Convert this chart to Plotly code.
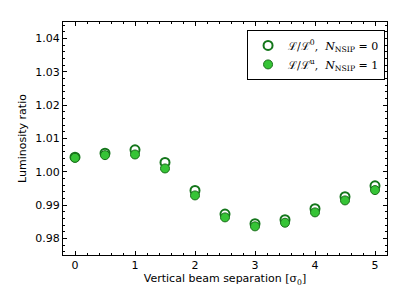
import plotly.graph_objects as go

separation = [0, 0.5, 1, 1.5, 2, 2.5, 3, 3.5, 4, 4.5, 5]
ratio_nsip0 = [1.0044, 1.0056, 1.0066, 1.0028, 0.9944, 0.9873, 0.9844, 0.9856, 0.9889, 0.9925, 0.9958]
ratio_nsip1 = [1.0042, 1.0050, 1.0052, 1.0010, 0.9929, 0.9863, 0.9836, 0.9847, 0.9878, 0.9914, 0.9945]
y_ticks = [0.98, 0.99, 1.00, 1.01, 1.02, 1.03, 1.04]
x_ticks = [0, 1, 2, 3, 4, 5]

fig = go.Figure()
fig.add_trace(go.Scatter(
    x=separation, y=ratio_nsip0, mode="markers",
    name="ℒ/ℒ<sup>0</sup>,  <i>N</i><sub>NSIP</sub> = 0",
    marker=dict(size=9, color="white", line=dict(color="#13761a", width=2)),
))
fig.add_trace(go.Scatter(
    x=separation, y=ratio_nsip1, mode="markers",
    name="ℒ/ℒ<sup>u</sup>,  <i>N</i><sub>NSIP</sub> = 1",
    marker=dict(size=9, color="#36c436", line=dict(color="#1a6e1a", width=1)),
))

axis_common = dict(
    showline=True, linecolor="black", linewidth=1, mirror="allticks",
    ticks="inside", ticklen=4, tickcolor="black", tickwidth=1,
    showgrid=False, zeroline=False,
    tickfont=dict(family="DejaVu Sans", size=11, color="black"),
)

fig.update_xaxes(
    range=[-0.2, 5.2], tickvals=x_ticks,
    minor=dict(ticks="inside", dtick=0.2, ticklen=2, tickcolor="black", showgrid=False),
    title=dict(text="Vertical beam separation <span style='font-family:DejaVu Serif'>[σ<sub>0</sub>]</span>",
               font=dict(family="DejaVu Sans", size=11, color="black"), standoff=2),
    automargin=True,
    **axis_common,
)
fig.update_yaxes(
    range=[0.975, 1.045], tickvals=y_ticks, tickformat=".2f",
    minor=dict(ticks="inside", dtick=0.002, ticklen=2, tickcolor="black", showgrid=False),
    title=dict(text="Luminosity ratio", font=dict(family="DejaVu Sans", size=11, color="black"), standoff=6),
    **axis_common,
)

# The page body has an 8px default margin; compensate so the plot area lands where the reference has it.
fig.update_layout(
    width=391, height=291,
    margin=dict(l=55, r=12, t=14, b=44),
    paper_bgcolor="white", plot_bgcolor="white",
    showlegend=True,
    legend=dict(
        x=0.994, y=0.966, xanchor="right", yanchor="top",
        bordercolor="black", borderwidth=1, bgcolor="white",
        font=dict(family="DejaVu Serif", size=11, color="black"),
        tracegroupgap=4, itemwidth=30,
    ),
)

fig.write_html("out.html")
